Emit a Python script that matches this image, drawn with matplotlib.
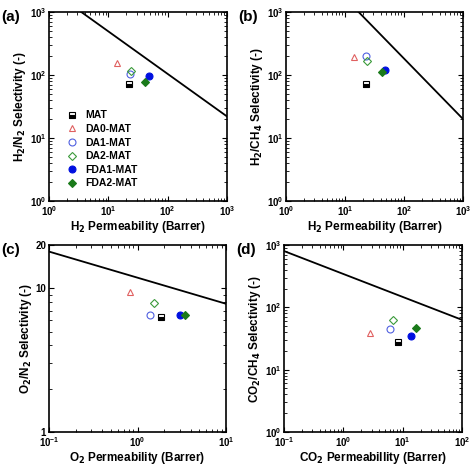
import matplotlib as mpl
mpl.use('Agg')
import numpy as np
import matplotlib.pyplot as plt

plt.rcParams['font.family'] = ['Liberation Sans', 'DejaVu Sans']
plt.rcParams['font.weight'] = 'bold'
plt.rcParams['axes.labelweight'] = 'bold'

names = ['MAT', 'DA0-MAT', 'DA1-MAT', 'DA2-MAT', 'FDA1-MAT', 'FDA2-MAT']

# (a) H2/N2
h2n2_perm = [22, 14, 23, 24, 48, 42]
h2n2_sel = [72, 155, 105, 115, 98, 77]
h2n2_bound = ([3.5, 1000], [1000, 22])
# (b) H2/CH4
h2ch4_perm = [23, 14, 23, 24, 48, 42]
h2ch4_sel = [72, 190, 200, 165, 118, 113]
h2ch4_bound = ([17, 1000], [1000, 20])
# (c) O2/N2
o2n2_perm = [1.84, 0.82, 1.38, 1.55, 3.05, 3.4]
o2n2_sel = [6.3, 9.4, 6.5, 7.9, 6.5, 6.5]
o2n2_bound = ([0.1, 10], [18, 7.8])
# (d) CO2/CH4
co2ch4_perm = [8.2, 2.8, 6.2, 7.0, 14, 17]
co2ch4_sel = [28, 39, 45, 62, 35, 47]
co2ch4_bound = ([0.1, 100], [800, 63])

styles = [
    dict(marker='s', color='k', fillstyle='bottom', markerfacecoloralt='white', markersize=4.5),
    dict(marker='^', color='#e06060', markerfacecolor='none'),
    dict(marker='o', color='#5060e0', markerfacecolor='none'),
    dict(marker='D', color='#3a9a3a', markerfacecolor='none', markersize=4),
    dict(marker='o', color='#0010e0'),
    dict(marker='D', color='#1a7a1a', markersize=4.5),
]

fig = plt.figure(figsize=(4.74, 4.67), dpi=100)
W, H = 474, 467
boxes = [(49, 12, 227, 201), (286, 12, 463, 201), (49, 245, 226, 432), (284, 245, 462, 432)]
panels = [
    (h2n2_perm, h2n2_sel, h2n2_bound, (1, 1000), (1, 1000), r'H$_2$ Permeability (Barrer)', r'H$_2$/N$_2$ Selectivity (-)', '(a)'),
    (h2ch4_perm, h2ch4_sel, h2ch4_bound, (1, 1000), (1, 1000), r'H$_2$ Permeability (Barrer)', r'H$_2$/CH$_4$ Selectivity (-)', '(b)'),
    (o2n2_perm, o2n2_sel, o2n2_bound, (0.1, 10), (1, 20), r'O$_2$ Permeability (Barrer)', r'O$_2$/N$_2$ Selectivity (-)', '(c)'),
    (co2ch4_perm, co2ch4_sel, co2ch4_bound, (0.1, 100), (1, 1000), r'CO$_2$ Permeabillity (Barrer)', r'CO$_2$/CH$_4$ Selectivity (-)', '(d)'),
]

for (l, t, r, b), (px, py, bound, xl, yl, xlab, ylab, tag) in zip(boxes, panels):
    ax = fig.add_axes([l / W, 1 - b / H, (r - l) / W, (b - t) / H])
    ax.plot(bound[0], bound[1], 'k-', lw=1.3)
    for i in range(len(names)):
        st = dict(markersize=5, linestyle='none', markeredgewidth=0.8)
        st.update(styles[i])
        ax.plot(px[i], py[i], label=names[i], **st)
    ax.set_xscale('log')
    ax.set_yscale('log')
    ax.set_xlim(xl)
    ax.set_ylim(yl)
    ax.tick_params(which='both', direction='in', top=True, right=True, labelsize=7, pad=2)
    ax.set_xlabel(xlab, fontsize=8.5, labelpad=1)
    ax.set_ylabel(ylab, fontsize=8.5, labelpad=1)
    for s in ax.spines.values():
        s.set_linewidth(1.2)
    if tag == '(c)':
        ax.set_yticks([1, 10, 20])
        ax.set_yticklabels(['1', '10', '20'])
        ax.yaxis.set_minor_formatter(mpl.ticker.NullFormatter())
    fig.text((l - 48) / W, 1 - (t - 2) / H, tag, fontsize=11, fontweight='bold', va='top')
    if tag == '(a)':
        ax.legend(loc='lower left', frameon=False, fontsize=7.5, handletextpad=0.3,
                  labelspacing=0.35, borderaxespad=0.8)

fig.savefig('out.png', dpi=100)
